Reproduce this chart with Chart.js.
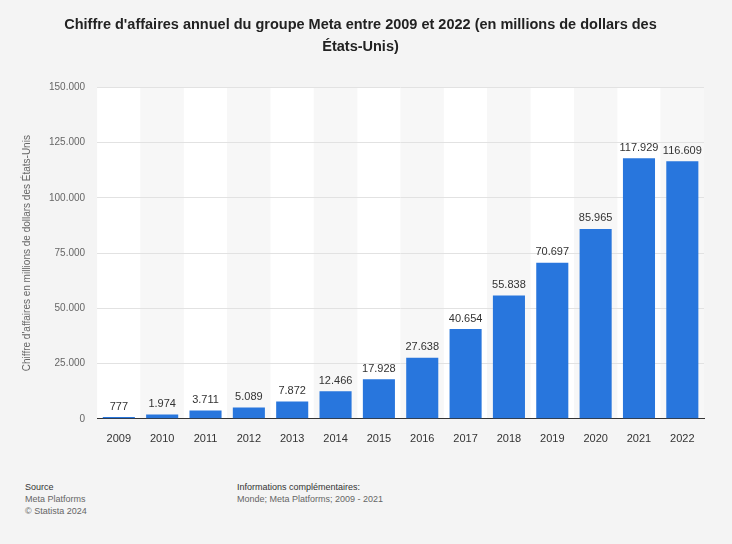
<!DOCTYPE html>
<html><head><meta charset="utf-8">
<script src="https://cdn.jsdelivr.net/npm/chart.js@4"></script>
<style>
body{margin:0;background:#f4f4f4;font-family:"Liberation Sans",Arial,sans-serif;}
#wrap{position:relative;width:732px;height:544px;}
canvas{position:absolute;left:0;top:0;}
.foot{position:absolute;font-size:9px;color:#666;line-height:12px;}
.foot b{font-weight:normal;color:#333;}
</style></head><body>
<div id="wrap">
<canvas id="c" width="732" height="452"></canvas>
<div class="foot" style="left:25px;top:481px"><b>Source</b><br>Meta Platforms<br>© Statista 2024</div>
<div class="foot" style="left:237px;top:481px"><b>Informations complémentaires:</b><br>Monde; Meta Platforms; 2009 - 2021</div>
</div>
<script>
// data
const years = ["2009","2010","2011","2012","2013","2014","2015","2016","2017","2018","2019","2020","2021","2022"];
const revenue = [777,1974,3711,5089,7872,12466,17928,27638,40654,55838,70697,85965,117929,116609];

const fmt = v => v.toLocaleString("de-DE");

// alternating column stripes behind grid and bars
const stripes = {
  id: "stripes",
  beforeDraw(chart) {
    const {ctx, chartArea: a, scales: {x}} = chart;
    const w = x.getPixelForValue(1) - x.getPixelForValue(0);
    ctx.save();
    years.forEach((y, i) => {
      ctx.fillStyle = i % 2 ? "#f7f7f7" : "#ffffff";
      ctx.fillRect(x.getPixelForValue(i) - w / 2, a.top, w, a.bottom - a.top);
    });
    ctx.restore();
  }
};

// value labels above bars
const labels = {
  id: "labels",
  afterDatasetsDraw(chart) {
    const ctx = chart.ctx;
    ctx.save();
    ctx.font = "11px 'Liberation Sans', Arial";
    ctx.fillStyle = "#333";
    ctx.textAlign = "center";
    ctx.textBaseline = "bottom";
    chart.getDatasetMeta(0).data.forEach((bar, i) => {
      ctx.fillText(fmt(revenue[i]), bar.x, bar.y - 5);
    });
    ctx.restore();
  }
};

new Chart(document.getElementById("c"), {
  type: "bar",
  data: {
    labels: years,
    datasets: [{ data: revenue, backgroundColor: "#2876dd", categoryPercentage: 1, barPercentage: 0.74 }]
  },
  options: {
    responsive: false,
    animation: false,
    layout: { padding: { left: 17, right: 28, top: 0, bottom: 0 } },
    plugins: {
      legend: { display: false },
      tooltip: { enabled: false },
      title: {
        display: true,
        text: ["Chiffre d'affaires annuel du groupe Meta entre 2009 et 2022 (en millions de dollars des", "États-Unis)"],
        color: "#222",
        font: { family: "'Liberation Sans', Arial", size: 14.5, weight: "bold", lineHeight: 1.5 },
        padding: { top: 14, bottom: 30 }
      }
    },
    scales: {
      x: {
        grid: { display: false },
        border: { color: "#333" },
        ticks: { color: "#333", font: { size: 11 }, padding: 6 }
      },
      y: {
        min: 0, max: 150000,
        ticks: { stepSize: 25000, color: "#666", font: { size: 10 }, padding: 12, callback: v => fmt(v) },
        grid: { color: "#e2e2e2", drawTicks: false },
        border: { display: false },
        title: { display: true, text: "Chiffre d'affaires en millions de dollars des États-Unis", color: "#666", font: { size: 10 } }
      }
    }
  },
  plugins: [stripes, labels]
});
</script>
</body></html>
